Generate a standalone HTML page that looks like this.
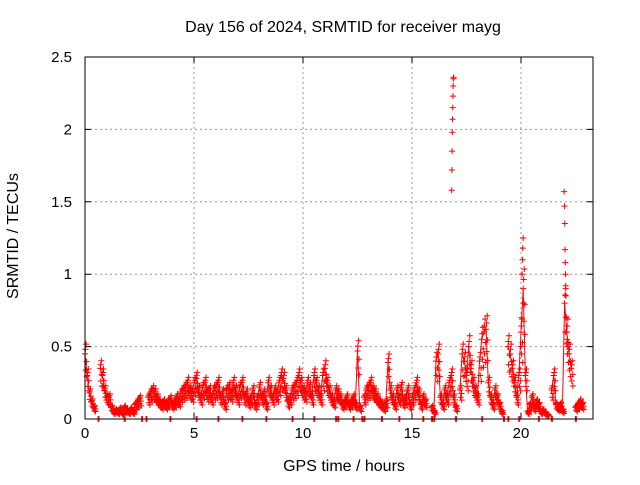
<!DOCTYPE html>
<html><head><meta charset="utf-8"><style>
html,body{margin:0;padding:0;background:#fff}
svg text{font-family:"Liberation Sans",sans-serif;font-size:15px;fill:#000}
svg text.big{font-size:16px}
</style></head><body>
<svg id="chart" width="640" height="480" viewBox="0 0 640 480" xmlns="http://www.w3.org/2000/svg">
<rect width="640" height="480" fill="#fff"/>
<g id="grid"></g>
<g id="marks"></g>
<rect x="85" y="57" width="508" height="362" fill="none" stroke="#000"/>
<g id="axes"></g>
<text class="big" x="343" y="32" text-anchor="middle">Day 156 of 2024, SRMTID for receiver mayg</text>
<text class="big" x="344" y="471" text-anchor="middle">GPS time / hours</text>
<text class="big" x="0" y="0" text-anchor="middle" transform="translate(18,236) rotate(-90)">SRMTID / TECUs</text>
</svg>
<script>
const xTicks=[0,5,10,15,20];
const yTicks=[0,0.5,1,1.5,2,2.5];
const yTickLabels=["0","0.5","1","1.5","2","2.5"];
const t0=0, dt=0.1;
const values=[0.45,0.3,0.18,0.12,0.08,null,null,0.35,0.3,0.2,0.15,0.15,0.08,0.05,0.06,0.05,0.07,0.04,0.08,0.06,
0.05,0.07,0.05,0.1,0.12,0.14,null,null,null,0.15,0.18,0.2,0.18,0.15,0.12,0.1,0.12,0.1,0.12,0.14,
0.1,0.12,0.15,0.13,0.18,0.2,0.22,0.25,0.2,0.18,0.25,0.28,0.2,0.15,0.22,0.25,0.18,0.2,0.15,0.2,
0.22,0.25,0.15,0.18,0.1,0.2,0.22,0.18,0.25,0.2,0.15,0.22,0.25,0.15,0.18,0.12,0.15,0.2,0.1,0.15,
0.22,0.15,0.18,0.1,0.25,0.2,0.15,0.2,0.18,0.25,0.3,0.28,0.2,0.12,0.15,0.2,0.22,0.25,0.3,0.25,
0.2,0.18,0.25,0.22,0.15,0.3,0.25,0.2,0.15,0.3,0.35,0.25,0.2,0.15,0.12,0.2,0.18,0.15,0.1,0.12,
0.15,0.1,0.12,0.15,0.1,0.47,0.08,null,0.15,0.2,0.22,0.25,0.2,0.18,0.15,0.12,0.1,0.08,0.12,0.39,
0.2,0.15,0.1,0.2,0.15,0.22,0.12,0.15,0.2,0.1,0.15,0.2,0.25,0.18,0.1,0.15,0.12,null,null,0.08,
0.05,0.4,0.45,0.15,0.1,0.2,0.15,0.25,0.3,0.15,0.08,null,0.2,0.45,0.4,0.3,0.5,0.35,0.25,0.2,
0.15,0.4,0.55,0.6,0.62,0.25,0.15,0.1,0.2,0.15,0.1,0.05,null,null,0.5,0.45,0.35,0.25,0.15,0.3,
0.6,0.9,0.3,0.05,0.1,0.15,0.08,0.12,0.1,0.05,0.06,0.04,0.03,null,0.2,0.3,0.1,0.08,0.1,0.06,
0.8,0.6,0.45,0.35,null,0.08,0.1,0.12,0.1];
const spikeTimes=[16.82,16.83,16.84,16.85,16.86,16.87,16.88,16.89,16.9,16.91,
20.05,20.07,20.08,20.1,20.12,20.03,20.0,
21.98,22.0,22.01,22.02,22.03,22.04,22.05,22.06,22.08,22.1,22.12,22.14];
const spikeValues=[1.58,1.72,1.85,1.98,2.07,2.15,2.23,2.3,2.35,2.36,
1.0,1.1,1.18,1.25,0.8,0.7,0.5,
1.57,1.47,1.35,1.17,1.08,1.0,0.9,0.85,0.7,0.6,0.55,0.5];
const zeroTimes=[0.6,1.8,2.6,2.8,3.9,5.1,6.1,7.2,8.3,9.5,10.5,11.5,11.6,12.3,12.7,12.8,13.6,14.4,15.5,15.9,16.0,17.0,18.2,19.2,19.4,19.9,20.8,21.4,22.5];

const X0=85,X1=593,Y0=419,Y1=57;
const xs=h=>X0+h*(521-85)/20;
const ys=v=>Y0-v*(Y0-Y1)/2.5;
const NS="http://www.w3.org/2000/svg";
const grid=document.getElementById('grid'),axes=document.getElementById('axes'),marks=document.getElementById('marks');
function mk(tag,attrs,parent){const e=document.createElementNS(NS,tag);for(const k in attrs)e.setAttribute(k,attrs[k]);parent.appendChild(e);return e;}
xTicks.forEach(h=>{
  const x=xs(h);
  if(h>0){const g=mk('line',{x1:x,x2:x,y1:Y1,y2:Y0,stroke:'#999','stroke-dasharray':'2,3','stroke-width':1},grid);
  
  }
  const tk=mk('path',{d:`M${x},${Y0}v-6M${x},${Y1}v6`,stroke:'#000'},axes);
  
  
  const t=mk('text',{x:x,y:Y0+19,'text-anchor':'middle'},axes);t.textContent=String(h);
  
  
});
yTicks.forEach((v,i)=>{
  const y=ys(v);
  if(v>0&&v<2.5){const g=mk('line',{x1:X0,x2:X1,y1:y,y2:y,stroke:'#999','stroke-dasharray':'2,3','stroke-width':1},grid);
  
  }
  const tk=mk('path',{d:`M${X0},${y}h6M${X1},${y}h-6`,stroke:'#000'},axes);
  
  
  const t=mk('text',{x:X0-13,y:y+5,'text-anchor':'end'},axes);t.textContent=yTickLabels[i];
  
  
});
function plus(h,v,color){
  const x=xs(h),y=ys(v);
  const p=mk('path',{d:`M${x-3},${y}h6M${x},${y-3}v6`,stroke:color,'stroke-width':1},marks);
  
  
}
let d='',prev=false;
values.forEach((v,i)=>{
  const h=t0+i*dt;
  if(v===null){prev=false;return;}
  d+=(prev?'L':'M')+xs(h)+','+ys(v);prev=true;
});
const line=mk('path',{d:d,stroke:'#f00','stroke-width':1,fill:'none'},marks);


const spread=[[0,1],[0.03,0.75],[0.05,1.15],[0.07,0.88],[0.02,1.07],[0.08,0.65]];
values.forEach((v,i)=>{if(v!==null){spread.forEach(s=>plus(t0+i*dt+s[0],v*s[1],'#f00'));}});
spikeTimes.forEach((h,i)=>plus(h,spikeValues[i],'#f00'));
zeroTimes.forEach(h=>{plus(h,0,'#f00');plus(h+0.04,0,'#f00');});
</script>
</body></html>
